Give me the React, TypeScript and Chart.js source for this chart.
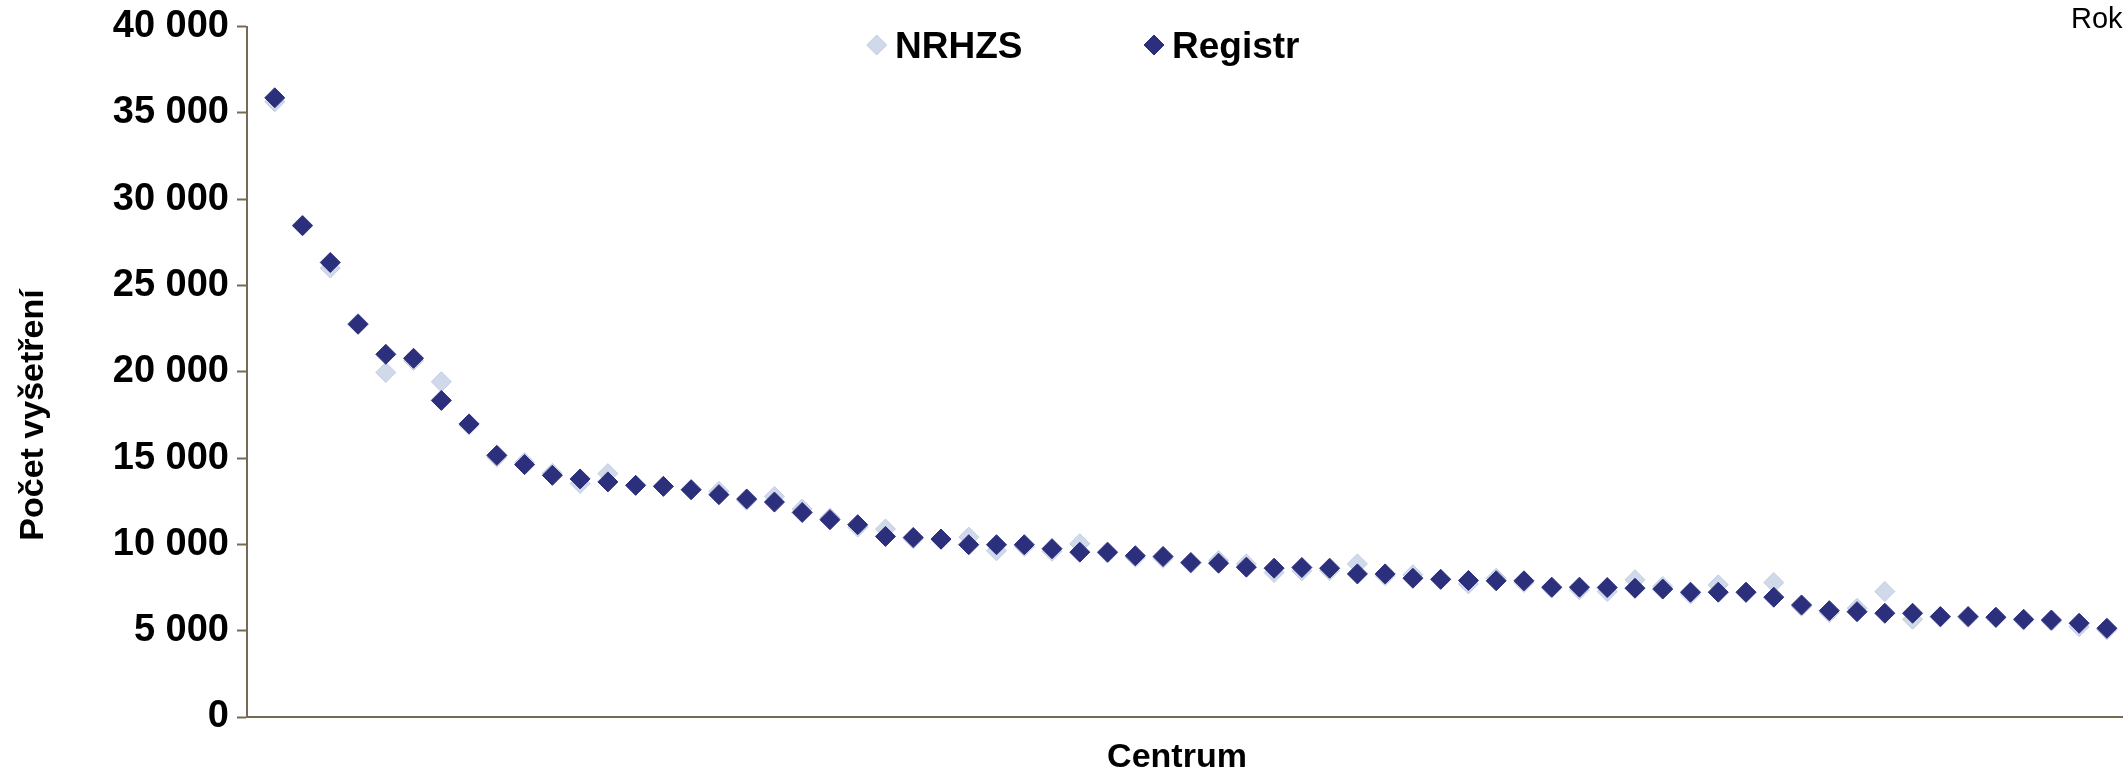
import React, { useEffect, useRef } from "react";
import { Chart, registerables } from "chart.js";

Chart.register(...registerables);

// Počet vyšetření podle centra (seřazeno sestupně podle Registru)
const registr = [
  35870, 28460, 26330, 22750, 21010, 20780, 18340, 16980, 15160, 14620,
  14000, 13790, 13620, 13420, 13360, 13170, 12880, 12630, 12450, 11850,
  11430, 11140, 10460, 10400, 10310, 9980, 9980, 9980, 9750, 9550,
  9550, 9340, 9300, 8950, 8910, 8680, 8620, 8660, 8620, 8290,
  8290, 8040, 7980, 7910, 7890, 7890, 7520, 7520, 7500, 7460,
  7410, 7230, 7230, 7230, 6940, 6490, 6160, 6100, 6010, 6010,
  5820, 5820, 5780, 5660, 5620, 5430, 5140,
];

const nrhzs = [
  35640, 28500, 26010, 22800, 19960, 20650, 19420, 16900, 15050, 14750,
  14120, 13530, 14100, 13420, 13360, 13150, 13070, 12550, 12780, 12050,
  11530, 11000, 10890, 10320, 10250, 10420, 9630, 9880, 9600, 10040,
  9500, 9250, 9190, 8900, 9070, 8870, 8370, 8470, 8490, 8870,
  8180, 8240, 7950, 7710, 8040, 7790, 7460, 7370, 7270, 7950,
  7560, 7120, 7660, 7200, 7790, 6410, 6050, 6300, 7270, 5660,
  5770, 5760, 5730, 5610, 5550, 5230, 5050,
];

// Pořadí centra na ose x
const centrum = registr.map((_, i) => i + 1);

const yTicks = [0, 5000, 10000, 15000, 20000, 25000, 30000, 35000, 40000];

const seriesNames = ["Registr", "NRHZS"];
const seriesColors = ["#2b2f7c", "#d0d9e9"];
const seriesBorders = ["#2b2f7c", "#c2cde2"];

const FONT = "'Liberation Sans', Arial, Helvetica, sans-serif";
const AXIS_COLOR = "#766a52";
const MARKER_R = 10;

const fmt = (v: number) =>
  String(v).replace(/\B(?=(\d{3})+(?!\d))/g, " ");

function diamond(ctx: CanvasRenderingContext2D, x: number, y: number, r: number) {
  ctx.beginPath();
  ctx.moveTo(x - r, y);
  ctx.lineTo(x, y - r);
  ctx.lineTo(x + r, y);
  ctx.lineTo(x, y + r);
  ctx.closePath();
}

const textPlugin = {
  id: "textOverlay",
  afterDraw(chart: any) {
    const ctx: CanvasRenderingContext2D = chart.ctx;
    ctx.save();

    // legenda (NRHZS, Registr)
    const legend = [
      { idx: 1, mx: 876.7, tx: 895 },
      { idx: 0, mx: 1154, tx: 1172 },
    ];
    ctx.font = `bold 37px ${FONT}`;
    ctx.textAlign = "left";
    ctx.textBaseline = "alphabetic";
    legend.forEach((it) => {
      diamond(ctx, it.mx, 45, MARKER_R);
      ctx.fillStyle = seriesColors[it.idx];
      ctx.fill();
      ctx.lineWidth = 1;
      ctx.strokeStyle = seriesBorders[it.idx];
      ctx.stroke();
      ctx.fillStyle = "#000";
      ctx.fillText(chart.data.datasets[it.idx].label, it.tx, 58);
    });

    // popisek osy y
    ctx.save();
    ctx.translate(43, 415);
    ctx.rotate(-Math.PI / 2);
    ctx.font = `bold 34px ${FONT}`;
    ctx.textAlign = "center";
    ctx.fillStyle = "#000";
    ctx.fillText("Počet vyšetření", 0, 0);
    ctx.restore();

    // popisek osy x
    ctx.font = `bold 34px ${FONT}`;
    ctx.textAlign = "center";
    ctx.fillStyle = "#000";
    ctx.fillText("Centrum", 1177, 767);

    // rok
    ctx.font = `29px ${FONT}`;
    ctx.textAlign = "left";
    ctx.fillText("Rok", 2071, 28);

    ctx.restore();
  },
};

export default function App() {
  const ref = useRef<HTMLCanvasElement | null>(null);

  useEffect(() => {
    if (!ref.current) return;
    const series = [registr, nrhzs];
    const chart = new Chart(ref.current, {
      type: "scatter",
      data: {
        datasets: series.map((vals, s) => ({
          label: seriesNames[s],
          data: vals.map((v, i) => ({ x: centrum[i], y: v })),
          pointStyle: "rectRot",
          pointRadius: MARKER_R,
          pointHoverRadius: MARKER_R,
          backgroundColor: seriesColors[s],
          borderColor: seriesBorders[s],
          borderWidth: 1,
          showLine: false,
          clip: false,
        })),
      },
      options: {
        responsive: false,
        animation: false,
        devicePixelRatio: 1,
        layout: { autoPadding: false, padding: { top: 26.5, left: 0, right: 0, bottom: 0 } },
        plugins: {
          legend: { display: false },
          tooltip: { enabled: false },
          title: { display: false },
        },
        scales: {
          x: {
            type: "linear",
            min: 0,
            max: 67.58,
            ticks: { display: false },
            grid: { display: false },
            border: { display: true, color: AXIS_COLOR, width: 2 },
            afterFit: (scale: any) => {
              scale.height = 54;
              scale.paddingLeft = 0;
              scale.paddingRight = 0;
            },
          },
          y: {
            type: "linear",
            min: 0,
            max: 40000,
            afterBuildTicks: (scale: any) => {
              scale.ticks = yTicks.map((v) => ({ value: v }));
            },
            ticks: {
              padding: 8,
              color: "#000",
              font: { family: FONT, size: 38, weight: "bold" },
              callback: (v: any) => fmt(Number(v)),
            },
            grid: {
              display: true,
              drawOnChartArea: false,
              drawTicks: true,
              tickLength: 10,
              tickColor: AXIS_COLOR,
              tickWidth: 2,
            },
            border: { display: true, color: AXIS_COLOR, width: 2 },
            afterFit: (scale: any) => {
              scale.width = 247;
              scale.paddingTop = 0;
              scale.paddingBottom = 0;
            },
          },
        },
      },
      plugins: [textPlugin],
    } as any);
    return () => chart.destroy();
  }, []);

  return (
    <div
      style={{
        position: "fixed",
        left: 0,
        top: 0,
        width: 2123,
        height: 771,
        overflow: "hidden",
        background: "#fff",
      }}
    >
      <canvas ref={ref} width={2123} height={771} style={{ display: "block" }} />
    </div>
  );
}
